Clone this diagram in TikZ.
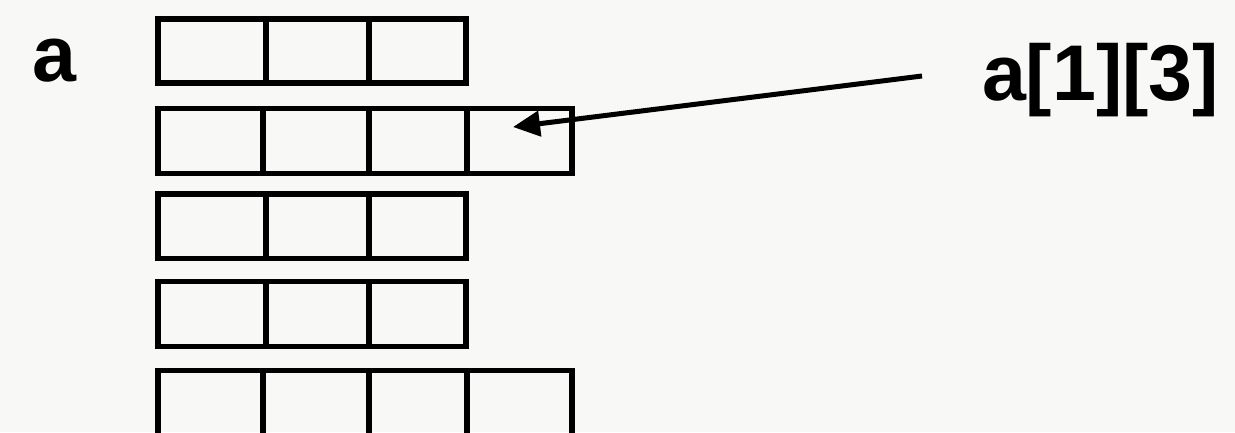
\documentclass[tikz,border=0pt]{standalone}
\usepackage{fontspec}
\setmainfont{Liberation Sans}
\usetikzlibrary{arrows.meta}
\definecolor{bg}{RGB}{248,248,246}
\tikzset{
  cell/.style={draw=black, line width=5.5pt, inner sep=0pt, outer sep=0pt, rectangle},
  biglabel/.style={inner sep=0pt, outer sep=0pt, anchor=base west, font=\fontsize{79}{79}\selectfont\bfseries},
  pointer/.style={line width=5pt, -{Triangle[length=27pt,width=25pt]}}
}
\begin{document}
\begin{tikzpicture}[x=1pt,y=-1pt]
\fill[bg] (0,0) rectangle (1235,432);
\useasboundingbox (0,0) rectangle (1235,432);
\foreach \n/\xa/\xb/\ya/\yb in {
  r0c0/158/266/19/83, r0c1/266/369/19/83, r0c2/369/466/19/83,
  r1c0/158/263/108.5/173.5, r1c1/263/369/108.5/173.5, r1c2/369/467/108.5/173.5, r1c3/467/572/108.5/173.5,
  r2c0/158/266/194/258.5, r2c1/266/369/194/258.5, r2c2/369/466/194/258.5,
  r3c0/158/266/281.5/346.5, r3c1/266/369/281.5/346.5, r3c2/369/466/281.5/346.5,
  r4c0/158/263/370.5/436, r4c1/263/369/370.5/436, r4c2/369/467/370.5/436, r4c3/467/572/370.5/436}
{
  \node[cell, minimum width={\xb-\xa}, minimum height={\yb-\ya}] (\n) at ({(\xa+\xb)/2},{(\ya+\yb)/2}) {};
}
\node[biglabel] (lbla) at (32,81) {a};
\node[biglabel] (lblidx) at (982,100) {a[1][3]};
\coordinate (tail) at (922,76);
\coordinate (tip) at (513,127);
\draw[pointer] (tail) -- (tip);
\end{tikzpicture}
\end{document}
